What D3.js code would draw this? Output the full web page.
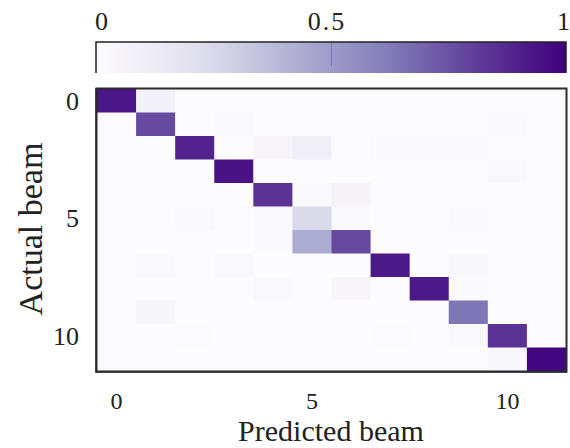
<!DOCTYPE html>
<html>
<head>
<meta charset="utf-8">
<script src="https://cdn.jsdelivr.net/npm/d3@7"></script>
<style>
  html, body { margin: 0; padding: 0; background: #fff; }
  svg { display: block; }
  text { font-family: "Liberation Serif", "Times New Roman", serif; fill: #222; }
</style>
</head>
<body>
<svg id="chart" width="570" height="448"></svg>
<script>
// ---- data ----
const beams = [0, 1, 2, 3, 4, 5, 6, 7, 8, 9, 10, 11];
const axisTicks = [0, 5, 10];
const colorbarTicks = [0, 0.5, 1];
const colorbarTickLabels = ["0", "0.5", "1"];
const xLabel = "Predicted beam";
const yLabel = "Actual beam";

// rows = actual beam, columns = predicted beam (normalized)
const row0  = [0.93, 0.08, 0, 0, 0, 0, 0, 0, 0, 0, 0, 0];
const row1  = [0, 0.77, 0, 0.03, 0, 0, 0, 0, 0, 0, 0.02, 0];
const row2  = [0, 0, 0.89, 0, 0.05, 0.11, 0, 0.02, 0.03, 0.025, 0, 0];
const row3  = [0, 0, 0, 0.94, 0, 0, 0, 0, 0, 0, 0.025, 0];
const row4  = [0, 0, 0, 0, 0.84, 0.015, 0.06, 0, 0, 0, 0, 0];
const row5  = [0, 0, 0.025, 0, 0.02, 0.24, 0.015, 0, 0, 0.025, 0, 0];
const row6  = [0, 0, 0, 0, 0.015, 0.44, 0.77, 0, 0, 0, 0, 0];
const row7  = [0, 0.025, 0, 0.03, 0, 0, 0, 0.92, 0, 0.035, 0, 0];
const row8  = [0, 0, 0, 0, 0.025, 0, 0.05, 0, 0.92, 0.02, 0, 0];
const row9  = [0, 0.045, 0, 0, 0, 0, 0, 0, 0, 0.64, 0, 0];
const row10 = [0, 0, 0.01, 0, 0, 0, 0, 0.01, 0, 0.025, 0.84, 0];
const row11 = [0, 0, 0, 0, 0, 0, 0, 0, 0, 0, 0.035, 0.98];
const rows = [row0, row1, row2, row3, row4, row5, row6, row7, row8, row9, row10, row11];

// ---- layout ----
const svg = d3.select("#chart");
const plot = { left: 97, right: 566, top: 89, bottom: 371 };
const cbar = { left: 96, right: 566, top: 42, bottom: 73 };

const x = d3.scaleBand().domain(beams).range([plot.left, plot.right]).padding(0);
const y = d3.scaleBand().domain(beams).range([plot.top, plot.bottom]).padding(0);
const color = d3.scaleSequential(d3.interpolatePurples).domain([0, 1]);

// ---- cells ----
const cells = [];
rows.forEach((r, i) => r.forEach((v, j) => cells.push({ actual: beams[i], pred: beams[j], v })));

svg.append("g").selectAll("rect")
  .data(cells)
  .join("rect")
  .attr("x", d => x(d.pred))
  .attr("y", d => y(d.actual))
  .attr("width", x.bandwidth() + 0.5)
  .attr("height", y.bandwidth() + 0.5)
  .attr("fill", d => color(d.v));

// frame
svg.append("rect")
  .attr("x", plot.left - 0.5).attr("y", plot.top - 0.5)
  .attr("width", plot.right - plot.left + 1).attr("height", plot.bottom - plot.top + 1)
  .attr("fill", "none").attr("stroke", "#2b2b2b").attr("stroke-width", 2);
svg.append("line")
  .attr("x1", plot.left - 1).attr("x2", plot.left - 1)
  .attr("y1", plot.top - 1).attr("y2", plot.bottom + 1.5)
  .attr("stroke", "#2b2b2b").attr("stroke-width", 1.5);
svg.append("line")
  .attr("x1", plot.left - 1.5).attr("x2", plot.right + 1)
  .attr("y1", plot.bottom + 1).attr("y2", plot.bottom + 1)
  .attr("stroke", "#2b2b2b").attr("stroke-width", 1.5);

// axes (labels only, no tick lines)
const xAxis = d3.axisBottom(x).tickValues(axisTicks).tickSize(0).tickPadding(0);
const gx = svg.append("g").attr("transform", `translate(0,${plot.bottom + 38})`).call(xAxis);
gx.select(".domain").remove();
gx.selectAll("text").attr("font-size", 24).attr("dy", "0").attr("fill", "#222")
  .attr("font-family", "Liberation Serif, serif");

const yAxis = d3.axisLeft(y).tickValues(axisTicks).tickSize(0).tickPadding(0);
const gy = svg.append("g").attr("transform", `translate(${plot.left - 18},0)`).call(yAxis);
gy.select(".domain").remove();
gy.selectAll("text").attr("font-size", 26).attr("dy", "0.35em").attr("fill", "#222")
  .attr("font-family", "Liberation Serif, serif");

// axis titles
svg.append("text")
  .attr("x", 331).attr("y", 441)
  .attr("text-anchor", "middle")
  .attr("font-size", 30)
  .attr("fill", "#333")
  .text(xLabel);
svg.append("text")
  .attr("transform", "translate(42,229) rotate(-90)")
  .attr("text-anchor", "middle")
  .attr("font-size", 34)
  .attr("fill", "#333")
  .text(yLabel);

// ---- colorbar ----
const cx = d3.scaleLinear().domain([0, 1]).range([cbar.left, cbar.right]);
const defs = svg.append("defs");
const grad = defs.append("linearGradient").attr("id", "cbgrad")
  .attr("x1", "0%").attr("x2", "100%").attr("y1", "0%").attr("y2", "0%");
d3.range(0, 1.0001, 0.05).forEach(t => {
  grad.append("stop").attr("offset", (t * 100) + "%").attr("stop-color", color(t));
});
svg.append("rect")
  .attr("x", cbar.left).attr("y", cbar.top)
  .attr("width", cbar.right - cbar.left).attr("height", cbar.bottom - cbar.top)
  .attr("fill", "url(#cbgrad)");
// thin mid tick inside bar
svg.append("line")
  .attr("x1", cx(0.5) + 0.5).attr("x2", cx(0.5) + 0.5)
  .attr("y1", cbar.top).attr("y2", cbar.top + 24)
  .attr("stroke", "#777").attr("stroke-width", 0.8);
// border: top, left, right
svg.append("path")
  .attr("d", `M${cbar.left},${cbar.bottom} V${cbar.top} H${cbar.right} V${cbar.bottom}`)
  .attr("fill", "none").attr("stroke", "#222").attr("stroke-width", 1.5);

svg.append("g").selectAll("text")
  .data(colorbarTicks)
  .join("text")
  .attr("x", (d, i) => i === 0 ? cx(d) - 1 : i === colorbarTicks.length - 1 ? cx(d) + 4 : cx(d) - 4)
  .attr("y", 30)
  .attr("text-anchor", (d, i) => i === 0 ? "start" : i === colorbarTicks.length - 1 ? "end" : "middle")
  .attr("font-size", 26)
  .attr("letter-spacing", (d, i) => i === 1 ? "2px" : "0px")
  .text((d, i) => colorbarTickLabels[i]);
</script>
</body>
</html>
